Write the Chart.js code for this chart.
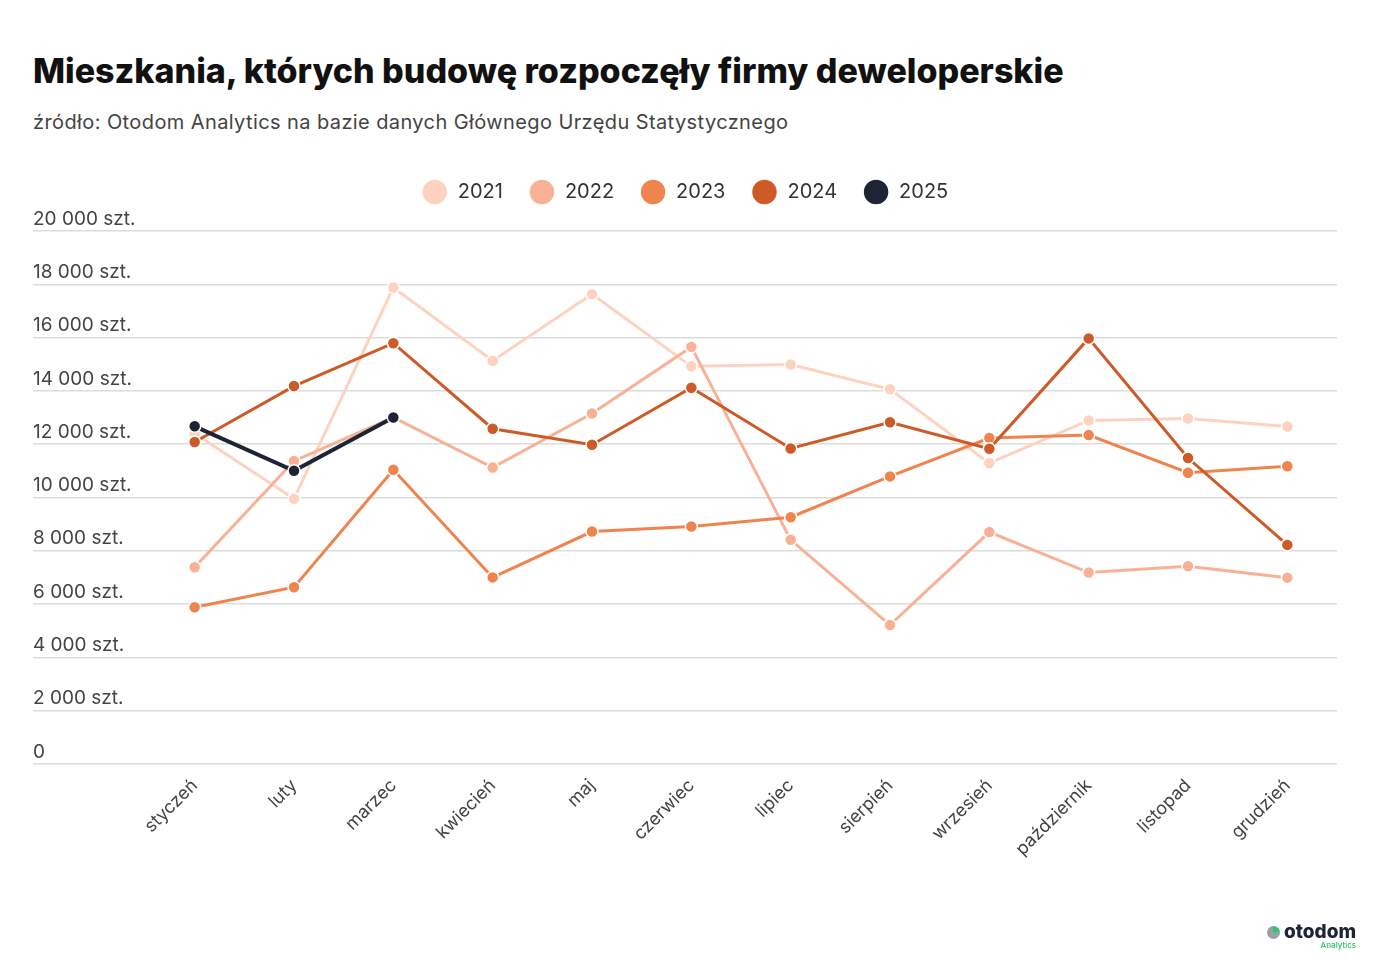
<!doctype html>
<html lang="pl">
<head>
    <meta charset="utf-8">
    <title>Mieszkania rozpoczęte przez deweloperów</title>
    <script src="https://cdn.jsdelivr.net/npm/chart.js@4/dist/chart.umd.min.js"></script>
    <style>
        body { margin: 0; background: #fff; font-family: Inter, sans-serif; }
        #page { position: relative; width: 1386px; height: 960px; overflow: hidden; }
        h1 { position: absolute; left: 33px; top: 50px; margin: 0; font-size: 34px; font-weight: 800; color: #111; letter-spacing: 0; }
        .sub { position: absolute; left: 33px; top: 110px; margin: 0; font-size: 20px; color: #444; letter-spacing: 0.4px; }
        #wrap { position: absolute; left: 0; top: 156px; width: 1386px; height: 794px; }
        .logo { position: absolute; left: 1267px; top: 920px; font-weight: 800; font-size: 19px; color: #1c2436; }
        .logo i { display: inline-block; width: 13px; height: 13px; border-radius: 50%; background: conic-gradient(#2cc46b 0 25%, #9aa0a8 25% 100%); margin-right: 4px; vertical-align: -1px; }
        .logo small { position: absolute; right: 0; top: 20px; font-size: 8px; font-weight: 500; color: #2cc46b; }
    </style>
</head>
<body>
<div id="page">
    <h1>Mieszkania, których budowę rozpoczęły firmy deweloperskie</h1>
    <p class="sub">źródło: Otodom Analytics na bazie danych Głównego Urzędu Statystycznego</p>
    <div id="wrap"><canvas id="myChart"></canvas></div>
    <div class="logo"><i></i>otodom<small>Analytics</small></div>
</div>
<script>
    var months = ["styczeń", "luty", "marzec", "kwiecień", "maj", "czerwiec", "lipiec", "sierpień", "wrzesień", "październik", "listopad", "grudzień"];

    var y2021 = [12400, 9950, 17880, 15130, 17630, 14920, 14990, 14060, 11290, 12890, 12960, 12660];
    var y2022 = [7380, 11370, 13000, 11120, 13150, 15650, 8410, 5210, 8700, 7180, 7420, 6990];
    var y2023 = [5880, 6630, 11040, 7000, 8720, 8910, 9260, 10790, 12230, 12340, 10930, 11170];
    var y2024 = [12080, 14180, 15790, 12580, 11980, 14120, 11840, 12820, 11830, 15970, 11480, 8220];
    var y2025 = [12670, 11000, 13000];

    var yTicks = [0, 2000, 4000, 6000, 8000, 10000, 12000, 14000, 16000, 18000, 20000];

    function fmt(v) {
        if (v === 0) return "0";
        return String(v).replace(/\B(?=(\d{3})+(?!\d))/g, " ") + " szt.";
    }

    function line(label, data, color, width) {
        return {
            label: label,
            data: data,
            borderColor: color,
            backgroundColor: color,
            borderWidth: width,
            pointRadius: 6,
            pointHoverRadius: 6,
            pointBorderColor: "#fff",
            pointBorderWidth: 1.5,
            pointBackgroundColor: color,
            tension: 0
        };
    }

    // extra room under the legend
    var legendGap = {
        id: "legendGap",
        beforeInit: function (chart) {
            var fit = chart.legend.fit;
            chart.legend.fit = function () {
                fit.bind(chart.legend)();
                this.height += 19;
            };
        }
    };

    var ctx = document.getElementById("myChart").getContext("2d");
    var myChart = new Chart(ctx, {
        type: "line",
        data: {
            labels: months,
            // 2025 first so it is drawn on top, legend reversed
            datasets: [
                line("2025", y2025, "#1c2436", 4),
                line("2024", y2024, "#cd5a27", 3),
                line("2023", y2023, "#f0844f", 3),
                line("2022", y2022, "#f9b196", 3),
                line("2021", y2021, "#fdd3c0", 3)
            ]
        },
        plugins: [legendGap],
        options: {
            responsive: true,
            maintainAspectRatio: false,
            animation: false,
            layout: { padding: { left: 33, right: 49, top: 0, bottom: 87 } },
            plugins: {
                tooltip: { enabled: false },
                legend: {
                    reverse: true,
                    labels: {
                        usePointStyle: true,
                        pointStyle: "circle",
                        boxHeight: 18.4,
                        pointStyleWidth: 26,
                        padding: 26,
                        color: "#333",
                        font: { family: "Inter", size: 20 }
                    }
                }
            },
            scales: {
                x: {
                    offset: true,
                    grid: { display: false },
                    border: { display: false },
                    ticks: {
                        minRotation: 45,
                        maxRotation: 45,
                        color: "#444",
                        font: { family: "Inter", size: 18 }
                    }
                },
                y: {
                    min: 0,
                    max: 20000,
                    afterBuildTicks: function (s) {
                        s.ticks = yTicks.map(function (v) { return { value: v }; });
                    },
                    afterFit: function (s) { s.width = 112; },
                    border: { display: false },
                    grid: { color: "#dcdcdc", lineWidth: 1.5, tickLength: 112, tickColor: "#dcdcdc" },
                    ticks: {
                        crossAlign: "far",
                        labelOffset: -12,
                        padding: 0,
                        color: "#444",
                        font: { family: "Inter", size: 19 },
                        callback: function (v) { return fmt(v); }
                    }
                }
            }
        }
    });
</script>
</body>
</html>
